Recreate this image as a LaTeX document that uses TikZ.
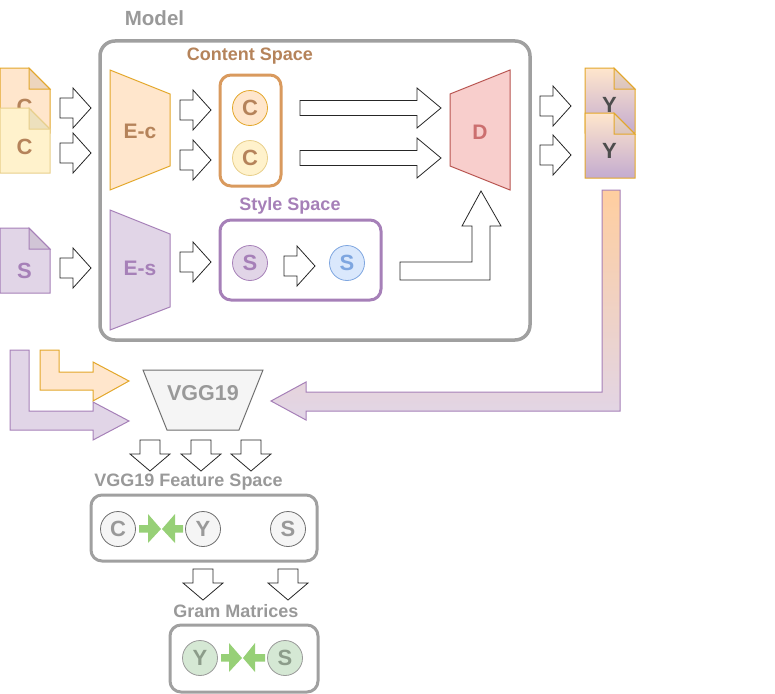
\documentclass[tikz,border=0pt]{standalone}
\usepackage{fontspec}
\setmainfont{Liberation Sans}
\usetikzlibrary{positioning}

\definecolor{modelgray}{HTML}{A0A0A0}
\definecolor{titlegray}{HTML}{999999}
\definecolor{contentbrown}{HTML}{B5835A}
\definecolor{contentline}{HTML}{D99A5E}
\definecolor{stylepurple}{HTML}{A680B8}
\definecolor{orangefill}{HTML}{FFE6CC}
\definecolor{orangeline}{HTML}{E3A72A}
\definecolor{yellowfill}{HTML}{FFF2CC}
\definecolor{yellowline}{HTML}{E8CF8A}
\definecolor{purplefill}{HTML}{E1D5E7}
\definecolor{purpleline}{HTML}{A680B8}
\definecolor{bluefill}{HTML}{DAE8FC}
\definecolor{blueline}{HTML}{7EA6E0}
\definecolor{redfill}{HTML}{F8CECC}
\definecolor{redline}{HTML}{B85450}
\definecolor{redtext}{HTML}{CC6F6F}
\definecolor{grayfill}{HTML}{F5F5F5}
\definecolor{grayline}{HTML}{6E6E6E}
\definecolor{greenfill}{HTML}{D5E8D4}
\definecolor{greenarrow}{HTML}{97D077}
\definecolor{greentext}{HTML}{8C9C8A}
\definecolor{ytext}{HTML}{4D4D4D}
\definecolor{gradtop}{HTML}{FFCE9F}
\definecolor{doctop}{HTML}{FFE6CC}
\definecolor{docbottom}{HTML}{C3ABD0}

\tikzset{
  titletext/.style={font=\bfseries\fontsize{18}{18}\selectfont, inner sep=0pt},
  marktext/.style={font=\bfseries\fontsize{21}{21}\selectfont, inner sep=0pt},
  spacebox/.style={line width=3pt, rounded corners=11pt},
  blockline/.style={draw=black!85, line width=.8pt, fill=white, line join=miter},
  tokenball/.style={circle, minimum size=35pt, inner sep=0pt, line width=.8pt,
    font=\bfseries\fontsize{22}{22}\selectfont},
  graytoken/.style={tokenball, draw=grayline, fill=grayfill, text=titlegray},
  greentoken/.style={tokenball, draw=grayline!70, fill=greenfill, text=greentext},
}

% x, y of the tail centre
\newcommand\blockright[2]{
  \draw[blockline] (#1,#2-10) -- ++(13,0) -- ++(0,-10) -- (#1+31,#2) -- (#1+13,#2+20) -- ++(0,-10) -- (#1,#2+10) -- cycle;
}
\newcommand\blocklong[2]{
  \draw[blockline] (#1,#2-7.5) -- ++(117,0) -- ++(0,-12.5) -- (#1+141,#2) -- (#1+117,#2+20) -- ++(0,-12.5) -- (#1,#2+7.5) -- cycle;
}
\newcommand\blockdown[2]{
  \draw[blockline] (#1-10,#2) -- ++(20,0) -- ++(0,14) -- ++(10,0) -- (#1,#2+31) -- (#1-20,#2+14) -- ++(10,0) -- cycle;
}
% name, x, y, fill options, label colour, label y, label
\newcommand\docpage[7]{
  \draw[#4, line width=1pt] (#2,#3) -- ++(29,0) -- ++(21,21) -- ++(0,44) -- ++(-50,0) -- cycle;
  \draw[#4, line width=1pt, shade=none, fill=black, fill opacity=.07] (#2+29,#3) -- ++(21,21) -- ++(-21,0) -- cycle;
  \node[marktext, text=#5, font=\bfseries\fontsize{22}{22}\selectfont] (#1) at (#2+24.5,#6) {#7};
}

\begin{document}
\begin{tikzpicture}[x=1pt, y=-1pt]
  \useasboundingbox (0,0) rectangle (775,693);

  % model
  \draw[modelgray, line width=3.5pt, rounded corners=15pt] (100,41) rectangle (530,340);
  \node[titletext, text=titlegray, font=\bfseries\fontsize{20.5}{20}\selectfont] (modeltitle) at (154.5,18) {Model};

  % inputs
  \docpage{docca}{0}{68}{orangeline, fill=orangefill}{contentbrown}{107}{C}
  \docpage{doccb}{0}{108}{yellowline, fill=yellowfill}{contentbrown}{147}{C}
  \docpage{docs}{0}{228}{purpleline, fill=purplefill}{stylepurple}{271}{S}
  \blockright{60}{108}
  \blockright{60}{153}
  \blockright{60}{268}

  % encoders
  \draw[orangeline, fill=orangefill, line width=1pt] (110,70) -- (170,94) -- (170,166) -- (110,190) -- cycle;
  \node[marktext, text=contentbrown] (enc) at (140,131) {E-c};
  \draw[purpleline, fill=purplefill, line width=1pt] (110,210) -- (170,234) -- (170,307) -- (110,330) -- cycle;
  \node[marktext, text=stylepurple] (ens) at (140,268) {E-s};
  \blockright{180}{110}
  \blockright{180}{160}
  \blockright{180}{262}

  % content space
  \node[titletext, text=contentbrown] (contenttitle) at (250,56.5) {Content Space};
  \draw[contentline, spacebox] (220,75) rectangle (281,186);
  \node[tokenball, draw=orangeline, fill=orangefill, text=contentbrown] (tokenca) at (250,108) {C};
  \node[tokenball, draw=yellowline, fill=yellowfill, text=contentbrown] (tokencb) at (250,158) {C};

  % style space
  \node[titletext, text=stylepurple] (styletitle) at (290,206) {Style Space};
  \draw[stylepurple, spacebox] (220,220) rectangle (381,300);
  \node[tokenball, draw=purpleline, fill=purplefill, text=stylepurple] (tokens) at (250,263) {S};
  \node[tokenball, draw=blueline, fill=bluefill, text=blueline] (tokent) at (347,263) {S};
  \blockright{284}{266}

  % decoder
  \blocklong{300}{108}
  \blocklong{300}{158}
  \draw[blockline] (400,262) -- (472,262) -- (472,226) -- (462,226) -- (481,191) -- (501,226) -- (490,226) -- (490,280) -- (400,280) -- cycle;
  \draw[redline, fill=redfill, line width=1pt] (450,94) -- (510,70) -- (510,190) -- (450,166) -- cycle;
  \node[marktext, text=redtext] (dec) at (480,132) {D};

  % outputs
  \blockright{540}{106}
  \blockright{540}{155}
  \docpage{docya}{585}{68}{orangeline, top color=doctop, bottom color=docbottom}{ytext}{105}{Y}
  \docpage{docyb}{585}{113}{orangeline, top color=doctop, bottom color=docbottom}{ytext}{151}{Y}

  % to vgg
  \draw[purpleline, line width=1pt, top color=gradtop, bottom color=purplefill] (602,190) -- (620,190) -- (620,411) -- (306,411) -- (306,420) -- (271,401) -- (306,382) -- (306,392) -- (602,392) -- cycle;
  \draw[purpleline, fill=purplefill, line width=1pt] (10,350) -- (29,350) -- (29,411) -- (93,411) -- (93,402) -- (129,421) -- (93,440) -- (93,430) -- (10,430) -- cycle;
  \draw[orangeline, fill=orangefill, line width=1pt] (40,350) -- (59,350) -- (59,372) -- (93,372) -- (93,362) -- (129,381) -- (93,401) -- (93,390) -- (40,390) -- cycle;
  \draw[grayline, fill=grayfill, line width=1pt] (143,370) -- (263,370) -- (239,430) -- (167,430) -- cycle;
  \node[marktext, text=titlegray, font=\bfseries\fontsize{21.5}{21}\selectfont] (vgg) at (203,393.5) {VGG19};
  \blockdown{150}{440}
  \blockdown{201}{440}
  \blockdown{251}{440}

  % feature space
  \node[titletext, text=titlegray] (featuretitle) at (188.5,482.5) {VGG19 Feature Space};
  \draw[modelgray, spacebox] (91,495) rectangle (317,561);
  \node[graytoken] (featc) at (118,529) {C};
  \node[graytoken] (featy) at (203,529) {Y};
  \node[graytoken] (feats) at (288,529) {S};
  \fill[greenarrow] (139,525) -- (148,525) -- (148,514) -- (161,529) -- (148,543) -- (148,532.5) -- (139,532.5) -- cycle;
  \fill[greenarrow] (183,525) -- (175,525) -- (175,514) -- (162,529) -- (175,543) -- (175,532.5) -- (183,532.5) -- cycle;
  \blockdown{203}{569}
  \blockdown{288}{569}

  % gram matrices
  \node[titletext, text=titlegray] (gramtitle) at (236,611.5) {Gram Matrices};
  \draw[modelgray, spacebox] (170,625) rectangle (318,692);
  \node[greentoken] (gramy) at (200,658) {Y};
  \node[greentoken] (grams) at (285,658) {S};
  \fill[greenarrow] (221,654) -- (229,654) -- (229,643) -- (242,658) -- (229,672) -- (229,661.5) -- (221,661.5) -- cycle;
  \fill[greenarrow] (265,654) -- (255,654) -- (255,643) -- (243,658) -- (255,672) -- (255,661.5) -- (265,661.5) -- cycle;
\end{tikzpicture}
\end{document}
